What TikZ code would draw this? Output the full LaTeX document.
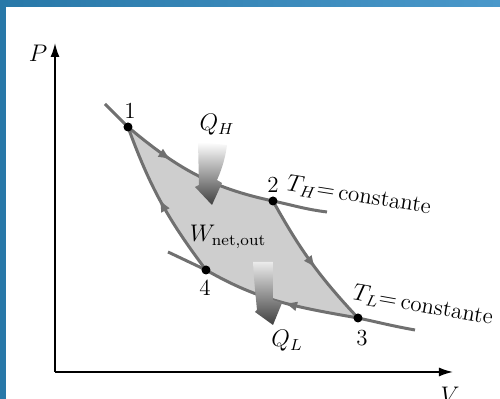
\documentclass[tikz,border=0pt]{standalone}
\usepackage{amsmath}
\usetikzlibrary{arrows.meta,decorations.markings}

\definecolor{framel}{RGB}{40,120,168}
\definecolor{framer}{RGB}{74,152,202}
\definecolor{linegray}{RGB}{112,112,112}
\definecolor{cyclegray}{RGB}{206,206,206}

\begin{document}
\begin{tikzpicture}[x=0.5pt,y=0.5pt,font=\fontsize{11.5}{14}\selectfont,
	curve/.style={line width=1.5pt,draw=linegray},
	midarrow/.style={postaction={decorate},decoration={markings,mark=at position #1 with {\arrow{Latex[length=6.5pt,width=5pt]}}}},
	axis/.style={line width=0.8pt,-{Latex[length=7pt,width=4.5pt]}},
	heat/.style={draw=none}]
	\useasboundingbox (0,0) rectangle (500,399);
	% frame
	\fill[left color=framel,right color=framer] (0,392) rectangle (500,399);
	\fill[framel] (0,0) rectangle (6,392);
	% states and ends of the isotherms
	\coordinate (P1) at (128,272);
	\coordinate (P2) at (273,198);
	\coordinate (P3) at (358,81);
	\coordinate (P4) at (206,129);
	\coordinate (THa) at (105,295);
	\coordinate (THb) at (327,187);
	\coordinate (TLa) at (168,147);
	\coordinate (TLb) at (415,69);
	\coordinate (O) at (55,27);
	\coordinate (Py) at (55,356);
	\coordinate (Vx) at (453,27);
	% axes
	\draw[axis] (O)--(Py);
	\draw[axis] (O)--(Vx);
	\node (plbl) at (38,346) {$P$};
	\node (vlbl) at (450,4) {$V$};
	% cycle
	\fill[cyclegray] (P1) to[out=-40,in=168] (P2) to[out=-61,in=133] (P3)
		to[out=170,in=-30] (P4) to[out=127,in=-70] (P1) -- cycle;
	\draw[curve] (THa)--(P1);
	\draw[curve] (P2) to[out=-12,in=173] (THb);
	\draw[curve] (TLa)--(P4);
	\draw[curve] (P3) to[out=-12,in=170] (TLb);
	\draw[curve,midarrow=0.33] (P1) to[out=-40,in=168] (P2);
	\draw[curve,midarrow=0.55] (P2) to[out=-61,in=133] (P3);
	\draw[curve,midarrow=0.47] (P3) to[out=170,in=-30] (P4);
	\draw[curve,midarrow=0.52] (P4) to[out=127,in=-70] (P1);
	% heat arrows
	\shade[heat,top color=white,bottom color=black!75] (198,257) -- (199,214) -- (195,212) -- (212,194)
		-- (222,216) -- (217,219) .. controls (223,232) and (226,245) .. (227,254) -- cycle;
	\shade[heat,top color=black!8,bottom color=black!75] (253,137) .. controls (254,120) .. (257,89)
		-- (255,87) -- (273,74) -- (282,96) -- (273,99) -- (273,137) -- cycle;
	% states
	\fill (P1) circle (4.5) node (n1) at (130,288) {1};
	\fill (P2) circle (4.5) node (n2) at (273,214) {2};
	\fill (P3) circle (4.5) node (n3) at (362,61) {3};
	\fill (P4) circle (4.5) node (n4) at (205,111) {4};
	% labels
	\node (qh) at (217,274) {$Q_H$};
	\node (ql) at (287,58) {$Q_L$};
	\node (wnet) at (228,162) {$W_{\text{net,out}}$};
	\node[rotate=-9,inner sep=1pt] (th) at (359,203) {$T_H{=}$\,constante};
	\node[rotate=-10,inner sep=1pt] (tl) at (423,93) {$T_L{=}$\,constante};
\end{tikzpicture}
\end{document}
